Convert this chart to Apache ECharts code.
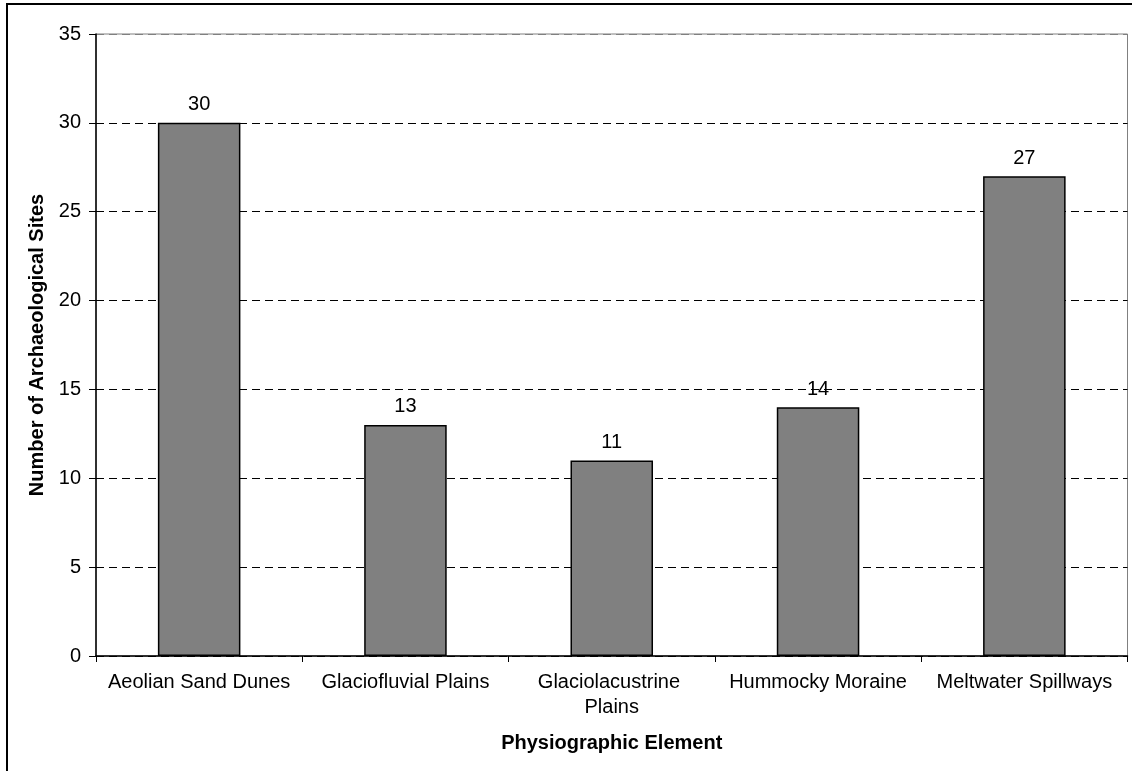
<!DOCTYPE html>
<html>
<head>
<meta charset="utf-8">
<script src="https://cdn.jsdelivr.net/npm/echarts@6/dist/echarts.min.js"></script>
<style>
html,body{margin:0;padding:0;background:#fff;}
#chart{width:1139px;height:771px;}
</style>
</head>
<body>
<div id="chart"></div>
<script>
var categories = ['Aeolian Sand Dunes', 'Glaciofluvial Plains', 'Glaciolacustrine Plains', 'Hummocky Moraine', 'Meltwater Spillways'];
var siteCounts = [30, 13, 11, 14, 27];
var yTicks = [0, 5, 10, 15, 20, 25, 30, 35];
var xTitle = 'Physiographic Element';
var yTitle = 'Number of Archaeological Sites';

var FONT = '"Liberation Sans", Arial, sans-serif';
var chart = echarts.init(document.getElementById('chart'), null, {renderer: 'canvas'});
var gridColors = yTicks.map(function (v, i) { return i === yTicks.length - 1 ? '#808080' : '#000000'; });

chart.setOption({
  backgroundColor: '#ffffff',
  animation: false,
  textStyle: {fontFamily: FONT},
  graphic: [{
    type: 'polyline',
    shape: {points: [[7, 780], [7, 4], [1132, 4]]},
    style: {stroke: '#000', lineWidth: 2, fill: null},
    silent: true
  }],
  grid: {
    left: 96, top: 34, right: 11.5, bottom: 115,
    show: true, borderColor: '#808080', borderWidth: 1, backgroundColor: 'transparent',
    containLabel: false
  },
  xAxis: {
    type: 'category',
    data: categories,
    name: xTitle,
    nameLocation: 'middle',
    nameGap: 77,
    nameTextStyle: {fontFamily: FONT, fontSize: 20, fontWeight: 'bold', color: '#000'},
    axisLine: {show: true, lineStyle: {color: '#000', width: 1.5}},
    axisTick: {show: true, length: 6, alignWithLabel: false, lineStyle: {color: '#000'}},
    axisLabel: {
      fontFamily: FONT, fontSize: 20, color: '#000', margin: 14, lineHeight: 25,
      interval: 0, width: 190, overflow: 'break'
    },
    splitLine: {show: false}
  },
  yAxis: {
    type: 'value',
    min: yTicks[0],
    max: yTicks[yTicks.length - 1],
    interval: 5,
    name: yTitle,
    nameLocation: 'middle',
    nameGap: 47,
    nameRotate: 90,
    nameTextStyle: {fontFamily: FONT, fontSize: 20, fontWeight: 'bold', color: '#000'},
    axisLine: {show: true, lineStyle: {color: '#000', width: 1.5}},
    axisTick: {show: true, length: 7, lineStyle: {color: '#000'}},
    axisLabel: {fontFamily: FONT, fontSize: 20, color: '#000', margin: 15},
    splitLine: {show: true, lineStyle: {color: gridColors, type: [8, 5], width: 1}}
  },
  series: [{
    type: 'bar',
    data: siteCounts,
    barWidth: '40%',
    itemStyle: {color: '#808080', borderColor: '#000', borderWidth: 1.5},
    label: {show: true, position: 'top', distance: 8, fontFamily: FONT, fontSize: 20, color: '#000'}
  }]
});
</script>
</body>
</html>
